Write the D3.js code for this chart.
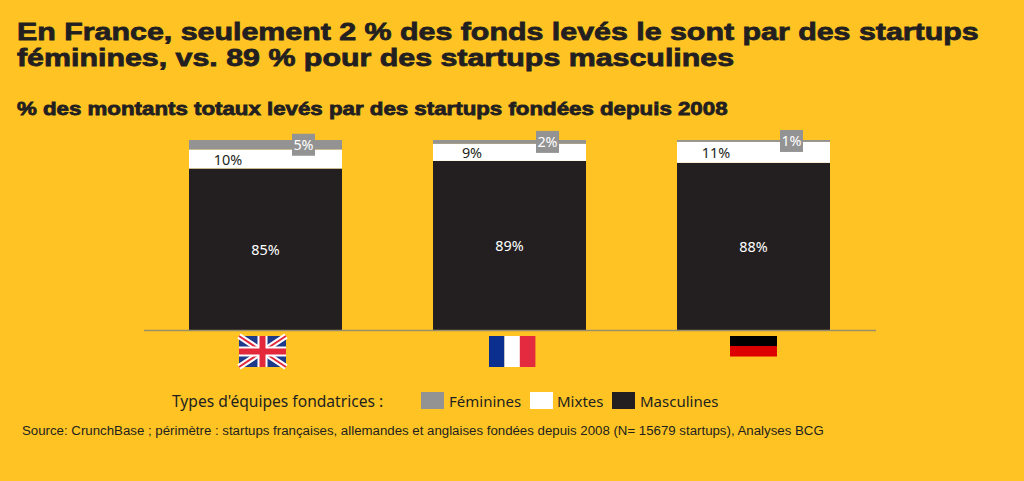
<!DOCTYPE html>
<html><head><meta charset="utf-8">
<script src="https://cdn.jsdelivr.net/npm/d3@7"></script>
<style>
html,body{margin:0;padding:0;background:#FFC423;}
svg{display:block;}
.h{font-family:"Liberation Sans",Arial,sans-serif;font-weight:bold;fill:#231F20;stroke:#231F20;stroke-width:.8px;}
.l{font-family:"Noto Sans",sans-serif;fill:#231F20;font-size:14.4px;}
</style></head><body><svg id="c" width="1024" height="481"></svg>
<script>
const titleLines=["En France, seulement 2 % des fonds levés le sont par des startups","féminines, vs. 89 % pour des startups masculines"];
const subtitle="% des montants totaux levés par des startups fondées depuis 2008";
const countries=["UK","France","Allemagne"];
const masculines=[85,89,88];
const mixtes=[10,9,11];
const feminines=[5,2,1];
const legendTitle="Types d'équipes fondatrices :";
const seriesNames=["Féminines","Mixtes","Masculines"];
const source="Source: CrunchBase ; périmètre : startups françaises, allemandes et anglaises fondées depuis 2008 (N= 15679 startups), Analyses BCG";
const DARK="#231F20",GREY="#939393",BG="#FFC423";

const svg=d3.select("#c");
svg.append("rect").attr("width",1024).attr("height",481).attr("fill",BG);
svg.selectAll(".t").data(titleLines).join("text").attr("class","h")
 .attr("transform",(d,i)=>`translate(17,${40+i*26}) scale(1.24,1)`).attr("font-size",24.5).text(d=>d);
svg.append("text").attr("class","h").attr("transform","translate(17,114.5) scale(1.185,1)").attr("font-size",18.8).text(subtitle);

const x=d3.scaleBand().domain(countries).range([143.5,875.5]).paddingInner(1-153/244).paddingOuter(45.5/244);
const y=d3.scaleLinear().domain([0,100]).range([330,140]);
const rows=countries.map((c,i)=>({c,Masculines:masculines[i],Mixtes:mixtes[i],"Féminines":feminines[i]}));
const stack=d3.stack().keys(["Masculines","Mixtes","Féminines"])(rows);
const col={Masculines:DARK,Mixtes:"#fff","Féminines":GREY};
const g=svg.selectAll(".s").data(stack).join("g").attr("fill",d=>col[d.key]);
g.selectAll("rect").data(d=>d).join("rect")
 .attr("x",d=>x(d.data.c)).attr("width",x.bandwidth())
 .attr("y",d=>y(d[1])).attr("height",d=>y(d[0])-y(d[1]));
const axis=d3.axisBottom(x).tickSize(0).tickFormat("");
const ax=svg.append("g").attr("transform","translate(0,330)").call(axis);
ax.select(".domain").attr("stroke","#9a8f6a").attr("stroke-width",1.5);
const lab=svg.append("g").attr("text-anchor","middle");
rows.forEach((r,i)=>{
 const bx=x(r.c),cx=bx+x.bandwidth()/2;
 lab.append("text").attr("class","l").attr("x",cx).attr("y",y(r.Masculines/2)+6).style("fill","#fff").text(r.Masculines+"%");
 lab.append("text").attr("class","l").attr("x",bx+39).attr("y",y(r.Masculines+r.Mixtes/2)+5.5).text(r.Mixtes+"%");
 const fx=bx+114.5, fy=y(100-r["Féminines"]/2);
 lab.append("rect").attr("x",fx-11.5).attr("y",fy-11).attr("width",23).attr("height",22).attr("fill",GREY);
 lab.append("text").attr("class","l").attr("x",fx).attr("y",fy+5).style("fill","#fff").text(r["Féminines"]+"%");
});
function uk(cx){const f=svg.append("g").attr("transform",`translate(${cx-23.5},336)`);const w=47,h=31;
 f.append("rect").attr("width",w).attr("height",h).attr("fill","#1f3a8a");
 f.append("path").attr("d",`M0 0L${w} ${h}M${w} 0L0 ${h}`).attr("stroke","#fff").attr("stroke-width",6);
 f.append("path").attr("d",`M0 0L${w} ${h}M${w} 0L0 ${h}`).attr("stroke","#e3283c").attr("stroke-width",2);
 f.append("path").attr("d",`M${w/2} 0V${h}M0 ${h/2}H${w}`).attr("stroke","#fff").attr("stroke-width",10);
 f.append("path").attr("d",`M${w/2} 0V${h}M0 ${h/2}H${w}`).attr("stroke","#e3283c").attr("stroke-width",6);}
function fr(cx){const f=svg.append("g").attr("transform",`translate(${cx-23},336)`);
 ["#0b2f8f","#fff","#e32a3e"].forEach((c,i)=>f.append("rect").attr("x",i*15.4).attr("width",15.6).attr("height",31).attr("fill",c));}
function de(cx){const f=svg.append("g").attr("transform",`translate(${cx-23.5},336)`);
 ["#000","#dd0000"].forEach((c,i)=>f.append("rect").attr("y",i*10).attr("width",47).attr("height",10.5).attr("fill",c));}
const flagShift=[-3,2.5,0];
[uk,fr,de].forEach((fn,i)=>fn(x(countries[i])+x.bandwidth()/2+flagShift[i]));
svg.append("text").attr("class","l").attr("x",172).attr("y",407).style("font-size","15.6px").text(legendTitle);
const lx=[421,530,612],tx=[449,557,640];
seriesNames.forEach((n,i)=>{
 svg.append("rect").attr("x",lx[i]).attr("y",392).attr("width",23).attr("height",17).attr("fill",col[n]);
 svg.append("text").attr("class","l").attr("x",tx[i]).attr("y",407).style("font-size","15px").text(n);
});
svg.append("text").attr("x",22).attr("y",435).attr("font-family","'Liberation Sans',Arial,sans-serif").attr("font-size",13.25).attr("fill",DARK).text(source);
</script></body></html>
